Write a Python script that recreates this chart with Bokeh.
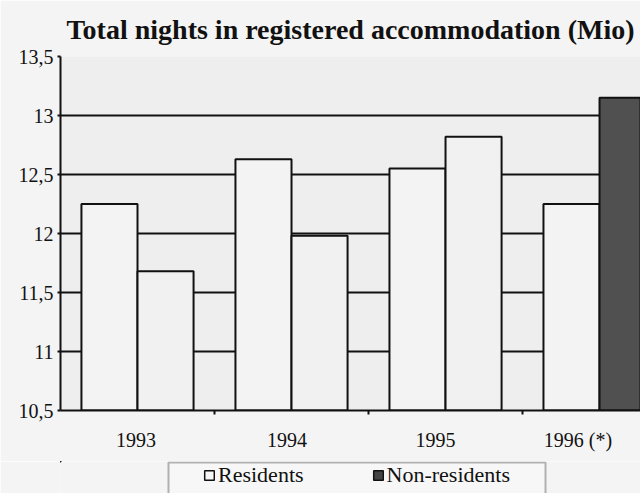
from bokeh.plotting import figure
from bokeh.layouts import column
from bokeh.models import ColumnDataSource, FixedTicker, Legend, LegendItem, Range1d, BoxAnnotation
from bokeh.embed import file_html
from bokeh.resources import INLINE

categories = ["1993", "1994", "1995", "1996 (*)"]
residents = [12.25, 12.63, 12.55, 12.25]
non_residents = [11.68, 11.98, 12.82, 13.15]
nonres_colors = ["#f1f1f1", "#f1f1f1", "#f1f1f1", "#505050"]
y_ticks = [10.5, 11, 11.5, 12, 12.5, 13, 13.5]
y_labels = ["10,5", "11", "11,5", "12", "12,5", "13", "13,5"]

# category slots are 1 unit wide; label anchors as they sit in the original
label_pos = [0.49, 1.47, 2.435, 3.36]
xc = [i + 0.5 for i in range(len(categories))]
x_res = [x - 0.182 for x in xc]
x_non = [x + 0.182 for x in xc]
src = ColumnDataSource(dict(xr=x_res, xn=x_non, res=residents, non=non_residents, col=nonres_colors))

FONT = "Liberation Serif"
INK = "#111111"
PAGE = "#f4f4f4"

p = figure(frame_width=580, frame_height=354, output_backend="svg", toolbar_location=None,
           x_range=Range1d(0, 3.766), y_range=Range1d(10.5, 13.5),
           min_border_left=60, min_border_right=0, min_border_top=0, min_border_bottom=51)

p.title.text = "Total nights in registered accommodation (Mio)"
p.title.text_font = FONT
p.title.text_font_size = "28px"
p.title.text_font_style = "bold"
p.title.align = "center"
p.title.text_color = INK
p.title.standoff = 23

p.background_fill_color = "#eeeeee"
p.border_fill_color = PAGE
p.outline_line_color = None

r_res = p.vbar(x="xr", top="res", bottom=10.5, width=0.364,
               source=src, fill_color="#f3f3f3", line_color=INK, line_width=2)
r_non = p.vbar(x="xn", top="non", bottom=10.5, width=0.364,
               source=src, fill_color="col", line_color=INK, line_width=2)

# x axis
p.xaxis.ticker = FixedTicker(ticks=label_pos, minor_ticks=[1, 2, 3])
p.xaxis.major_label_overrides = {x: c for x, c in zip(label_pos, categories)}
p.xaxis.major_tick_line_color = None
p.xaxis.minor_tick_out = 4
p.xaxis.minor_tick_in = 0
p.xaxis.minor_tick_line_color = INK
p.xaxis.minor_tick_line_width = 2
p.xaxis.axis_line_color = INK
p.xaxis.axis_line_width = 2
p.xaxis.major_label_text_font = FONT
p.xaxis.major_label_text_font_size = "20px"
p.xaxis.major_label_text_color = INK
p.xaxis.major_label_standoff = 12

# y axis
p.yaxis.ticker = FixedTicker(ticks=y_ticks)
p.yaxis.major_label_overrides = {t: l for t, l in zip(y_ticks, y_labels)}
p.yaxis.minor_tick_line_color = None
p.yaxis.major_tick_out = 3
p.yaxis.major_tick_in = 0
p.yaxis.major_tick_line_color = INK
p.yaxis.major_tick_line_width = 2
p.yaxis.axis_line_color = INK
p.yaxis.axis_line_width = 2
p.yaxis.major_label_text_font = FONT
p.yaxis.major_label_text_font_size = "20px"
p.yaxis.major_label_text_color = INK
p.yaxis.major_label_standoff = 4

p.xgrid.grid_line_color = None
p.ygrid.grid_line_color = INK
p.ygrid.grid_line_width = 2
p.ygrid.ticker = FixedTicker(ticks=y_ticks)

# legend strip below the chart (same borders as the chart, 1 data unit = 1 px)
q = figure(frame_width=580, frame_height=32, output_backend="svg", toolbar_location=None,
           x_range=Range1d(100, 680), y_range=Range1d(-32, 0),
           min_border_left=60, min_border_right=0, min_border_top=0, min_border_bottom=0)
q.axis.visible = False
q.grid.visible = False
q.background_fill_color = PAGE
q.border_fill_color = PAGE
q.outline_line_color = None
q.add_layout(BoxAnnotation(left=208, right=585, top=-1, bottom=-60,
                           fill_color="#f7f7f7", fill_alpha=1, line_color=INK, line_width=2))
# legend swatches share the series' source; their values lie outside this strip's range
k_res = q.vbar(x="xr", top="res", bottom=10.5, width=0.364, source=src,
               fill_color="#f7f7f7", line_color=INK, line_width=1.5)
k_non = q.vbar(x="xn", top="non", bottom=10.5, width=0.364, source=src,
               fill_color="#444444", line_color=INK, line_width=1.5)
legend = Legend(items=[LegendItem(label="Residents", renderers=[k_res], index=0),
                       LegendItem(label="Non-residents", renderers=[k_non], index=3)],
                orientation="horizontal", location=(143, 5), margin=0, padding=0,
                label_text_font=FONT, label_text_font_size="22px", label_text_color=INK,
                label_standoff=3, glyph_width=12, glyph_height=12, spacing=68,
                border_line_color=None, background_fill_alpha=0)
q.add_layout(legend, "center")

layout = column(p, q, spacing=0)
open("out.html", "w").write(file_html(layout, INLINE))
